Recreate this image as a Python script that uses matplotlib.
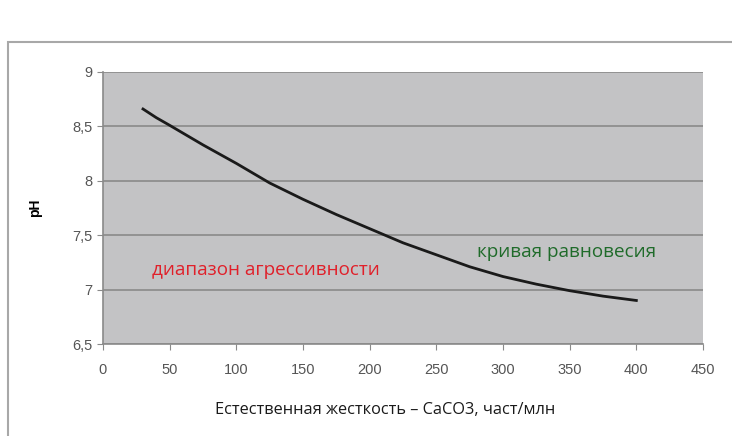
import matplotlib
matplotlib.use("Agg")
import matplotlib.pyplot as plt
from matplotlib.patches import Rectangle

# hardness CaCO3 (ppm) vs equilibrium pH
hardness = [30, 35, 40, 50, 75, 100, 125, 150, 175, 200, 225, 250, 275, 300, 325, 350, 375, 400]
ph = [8.66, 8.62, 8.58, 8.51, 8.33, 8.16, 7.98, 7.83, 7.69, 7.56, 7.43, 7.32, 7.21, 7.12, 7.05, 6.99, 6.94, 6.90]

x_ticks = [0, 50, 100, 150, 200, 250, 300, 350, 400, 450]
y_ticks = [6.5, 7, 7.5, 8, 8.5, 9]
y_labels = ["6,5", "7", "7,5", "8", "8,5", "9"]

W, H = 732, 436
fig = plt.figure(figsize=(W / 100, H / 100), dpi=100)
fig.patch.set_facecolor("white")

# outer frame of the chart
fig.patches.append(Rectangle((8 / W, -0.1), 1.2, 1.1 - 42 / H, transform=fig.transFigure,
                             fill=False, edgecolor="#a8a8a8", linewidth=1.5))

ax = fig.add_axes([103 / W, 1 - 344 / H, 600 / W, 272 / H])
ax.set_facecolor("#c3c3c5")
ax.plot(hardness, ph, color="#1a1a1a", linewidth=2)

ax.set_xlim(0, 450)
ax.set_ylim(6.5, 9)
ax.set_xticks(x_ticks)
ax.set_yticks(y_ticks)
ax.set_yticklabels(y_labels)
ax.grid(axis="y", color="#8a8a8a", linewidth=1.2)
ax.set_axisbelow(True)

for side in ["top", "right"]:
    ax.spines[side].set_visible(False)
for side in ["left", "bottom"]:
    ax.spines[side].set_color("#8a8a8a")
    ax.spines[side].set_linewidth(1.2)

ax.tick_params(colors="#8a8a8a", labelcolor="#555555", labelsize=10.5, length=4)
for lbl in ax.get_xticklabels() + ax.get_yticklabels():
    lbl.set_family("Liberation Sans")
ax.tick_params(axis="x", pad=10)

ax.set_ylabel("pH", fontsize=10, fontweight="bold", family="Liberation Sans", labelpad=22)
fig.text(385 / W, 1 - 410 / H, "Естественная жесткость – CaCO3, част/млн", fontsize=11.8,
         family="Open Sans", color="#1a1a1a", ha="center", va="center")

ax.text(36.5, 7.18, "диапазон агрессивности", color="#e0202a", fontsize=13.6,
        family="Open Sans", va="center")
ax.text(280.5, 7.35, "кривая равновесия", color="#1f6b2a", fontsize=13.6,
        family="Open Sans", va="center")

fig.savefig("out.png", dpi=100)
